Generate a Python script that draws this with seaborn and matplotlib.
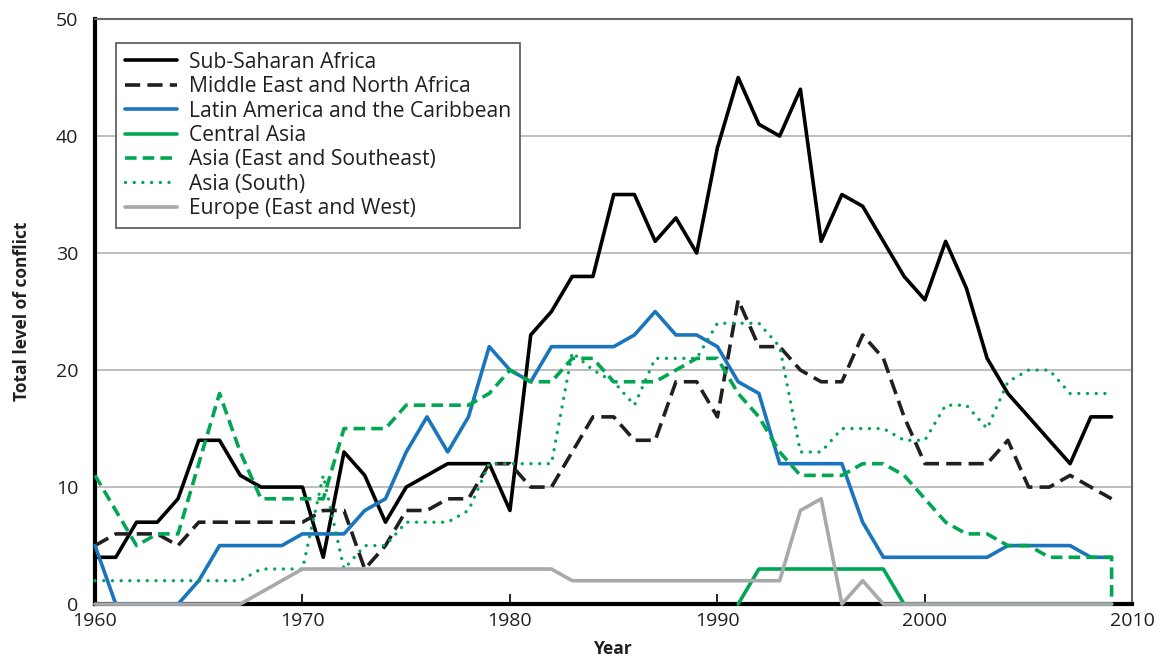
"""
Total level of conflict by region, 1960-2009.
"""
import matplotlib
matplotlib.use("Agg")
import matplotlib.pyplot as plt
import pandas as pd
import seaborn as sns

YEARS = list(range(1960, 2010))

sub_saharan = [4, 4, 7, 7, 9, 14, 14, 11, 10, 10,
               10, 4, 13, 11, 7, 10, 11, 12, 12, 12,
               8, 23, 25, 28, 28, 35, 35, 31, 33, 30,
               39, 45, 41, 40, 44, 31, 35, 34, 31, 28,
               26, 31, 27, 21, 18, 16, 14, 12, 16, 16]
mena = [5, 6, 6, 6, 5, 7, 7, 7, 7, 7,
        7, 8, 8, 3, 5, 8, 8, 9, 9, 12,
        12, 10, 10, 13, 16, 16, 14, 14, 19, 19,
        16, 26, 22, 22, 20, 19, 19, 23, 21, 16,
        12, 12, 12, 12, 14, 10, 10, 11, 10, 9]
latin_america = [5, 0, 0, 0, 0, 2, 5, 5, 5, 5,
                 6, 6, 6, 8, 9, 13, 16, 13, 16, 22,
                 20, 19, 22, 22, 22, 22, 23, 25, 23, 23,
                 22, 19, 18, 12, 12, 12, 12, 7, 4, 4,
                 4, 4, 4, 4, 5, 5, 5, 5, 4, 4]
central_asia_years = list(range(1991, 2010))
central_asia = [0, 3, 3, 3, 3, 3, 3, 3, 0,
                0, 0, 0, 0, 0, 0, 0, 0, 0, 0]
# the series ends with a drop to zero drawn at the last year
asia_east_years = YEARS + [2009]
asia_east = [11, 8, 5, 6, 6, 12, 18, 13, 9, 9,
             9, 9, 15, 15, 15, 17, 17, 17, 17, 18,
             20, 19, 19, 21, 21, 19, 19, 19, 20, 21,
             21, 18, 16, 13, 11, 11, 11, 12, 12, 11,
             9, 7, 6, 6, 5, 5, 4, 4, 4, 4, 0]
asia_south = [2, 2, 2, 2, 2, 2, 2, 2, 3, 3,
              3, 11, 3, 5, 5, 7, 7, 7, 8, 12,
              12, 12, 12, 21.5, 20, 19, 17, 21, 21, 21,
              24, 24, 24, 22, 13, 13, 15, 15, 15, 14,
              14, 17, 17, 15, 19, 20, 20, 18, 18, 18]
europe = [0, 0, 0, 0, 0, 0, 0, 0, 1, 2,
          3, 3, 3, 3, 3, 3, 3, 3, 3, 3,
          3, 3, 3, 2, 2, 2, 2, 2, 2, 2,
          2, 2, 2, 2, 8, 9, 0, 2, 0, 0,
          0, 0, 0, 0, 0, 0, 0, 0, 0, 0]

TEXT = "#231f20"
BLUE = "#1a75bc"
GREEN = "#00a651"
GREY = "#a7a9ac"

series = [
    ("Sub-Saharan Africa", YEARS, sub_saharan, dict(color="black", linestyle="-")),
    ("Middle East and North Africa", YEARS, mena, dict(color=TEXT, linestyle=(0, (4.2, 2.0)))),
    ("Latin America and the Caribbean", YEARS, latin_america, dict(color=BLUE, linestyle="-")),
    ("Central Asia", central_asia_years, central_asia, dict(color=GREEN, linestyle="-")),
    ("Asia (East and Southeast)", asia_east_years, asia_east, dict(color=GREEN, linestyle=(0, (3.2, 1.7)))),
    ("Asia (South)", YEARS, asia_south, dict(color=GREEN, linestyle=(0, (0.01, 2.6)),
                                              dash_capstyle="round", linewidth=2.4)),
    ("Europe (East and West)", YEARS, europe, dict(color=GREY, linestyle="-")),
]

sns.set_theme(style="white")
plt.rcParams["font.family"] = ["Open Sans", "DejaVu Sans"]
plt.rcParams["text.color"] = TEXT

fig, ax = plt.subplots(figsize=(11.59, 6.69), dpi=100)
fig.subplots_adjust(left=0.082, right=0.977, bottom=0.097, top=0.9716)

for name, xs, ys, style in series:
    df = pd.DataFrame({"year": xs, "value": ys})
    kw = dict(linewidth=2.6, zorder=3, clip_on=False)
    kw.update(style)
    sns.lineplot(data=df, x="year", y="value", ax=ax, label=name,
                 estimator=None, sort=False, **kw)

ax.set_xlim(1960, 2010)
ax.set_ylim(0, 50)
ax.set_xticks(range(1960, 2011, 10))
ax.set_yticks(range(0, 51, 10))
ax.yaxis.grid(True, color="#b3b3b3", linewidth=1.2)
ax.set_axisbelow(True)
ax.tick_params(axis="x", direction="in", length=7, width=1.2, color="black",
               labelsize=14, labelcolor=TEXT, pad=6, bottom=True)
ax.tick_params(axis="y", length=0, labelsize=14, labelcolor=TEXT, pad=12)

for side in ("left", "bottom"):
    ax.spines[side].set_color("black")
    ax.spines[side].set_linewidth(3)
    ax.spines[side].set_zorder(2.5)
for side in ("top", "right"):
    ax.spines[side].set_color("#666666")
    ax.spines[side].set_linewidth(1.5)

ax.set_xlabel("Year", fontsize=12.5, fontweight="bold", color=TEXT, labelpad=7)
ax.set_ylabel("Total level of conflict", fontsize=12.5, fontweight="bold", color=TEXT, labelpad=18)

leg = ax.legend(loc="upper left", bbox_to_anchor=(0.02, 0.959), fontsize=15.2,
                frameon=True, fancybox=False, framealpha=1, edgecolor="#555555",
                handlelength=2.5, handletextpad=0.55, labelspacing=0.16,
                borderpad=0.42, borderaxespad=0)
leg.set_zorder(5)
leg.get_frame().set_linewidth(1.2)
for t in leg.get_texts():
    t.set_color(TEXT)

fig.savefig("out.png", dpi=100)
